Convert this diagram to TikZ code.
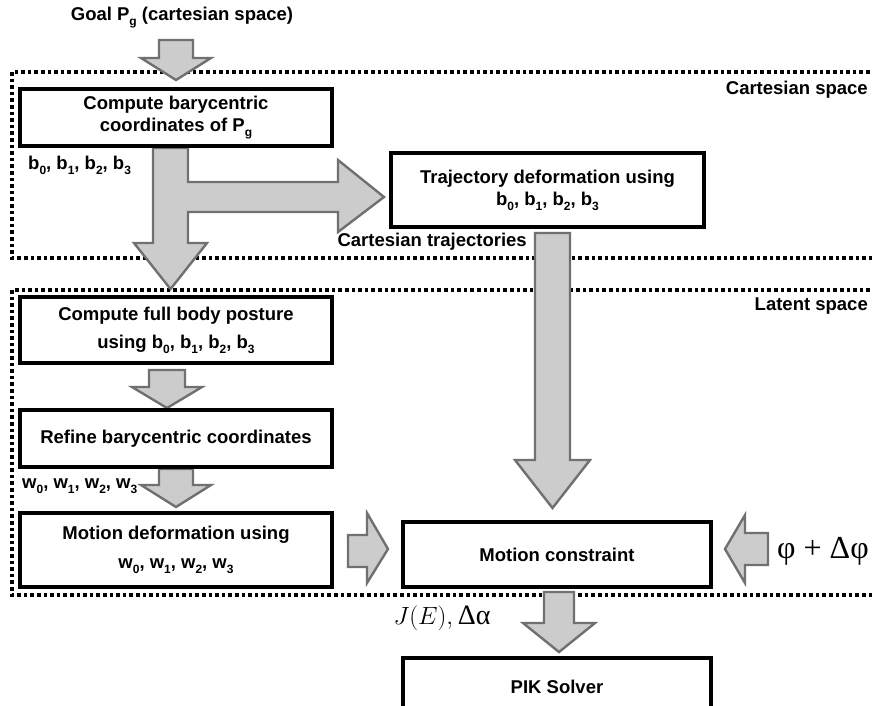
\documentclass[tikz,border=0pt]{standalone}
\usepackage[no-math]{fontspec}
\setmainfont{Liberation Sans}
\newfontfamily\serifgr{Liberation Serif}
\usetikzlibrary{calc}
\newcommand{\sbs}[1]{\raisebox{-0.5ex}{\fontsize{12}{12}\selectfont #1}}
\definecolor{arrowfill}{RGB}{204,204,204}
\definecolor{arrowedge}{RGB}{112,112,112}
\tikzset{
  box/.style={draw=black, line width=3.2pt, fill=white, align=center,
    font=\fontsize{18.5}{22}\selectfont\bfseries, inner sep=0pt},
  lbl/.style={font=\fontsize{18.5}{22}\selectfont\bfseries, inner sep=0pt},
  zone/.style={draw=black, line width=3.3pt, dash pattern=on 3.6pt off 3pt},
  blockarrow/.style={draw=arrowedge, fill=arrowfill, line width=2.4pt, line join=miter},
  mathlbl/.style={inner sep=0pt, font=\fontsize{28}{30}\selectfont},
}
\begin{document}
\begin{tikzpicture}[x=1pt,y=-1pt]
\useasboundingbox (0,0) rectangle (872,705);
% zones
\draw[zone] (12,72) rectangle (895,258);
\draw[zone] (12,290) rectangle (895,595);
% block arrows
\draw[blockarrow] (159,40) -- (193,40) -- (193,58) -- (211,58) -- (176,80) -- (141,58) -- (159,58) -- cycle;
\draw[blockarrow] (153,148) -- (188,148) -- (188,182) -- (338,182) -- (338,160) -- (384,197)
  -- (338,232) -- (338,212) -- (188,212) -- (188,243) -- (207,243) -- (170.5,289) -- (134,243)
  -- (153,243) -- cycle;
\draw[blockarrow] (535,233) -- (570,233) -- (570,460) -- (590,460) -- (552.5,508) -- (515,460) -- (535,460) -- cycle;
\draw[blockarrow] (149,370) -- (185,370) -- (185,387) -- (202,387) -- (167,408) -- (132,387) -- (149,387) -- cycle;
\draw[blockarrow] (159,469) -- (193,469) -- (193,485) -- (211,485) -- (176,507) -- (141,485) -- (159,485) -- cycle;
\draw[blockarrow] (348,535) -- (367,535) -- (367,513) -- (388,549) -- (367,583) -- (367,567) -- (348,567) -- cycle;
\draw[blockarrow] (768,533) -- (745,533) -- (745,515) -- (725,549) -- (745,583) -- (745,565) -- (768,565) -- cycle;
\draw[blockarrow] (544,592) -- (574,592) -- (574,623) -- (595,623) -- (559,652) -- (523,623) -- (544,623) -- cycle;
% boxes
\node[box, minimum width=312pt, minimum height=57pt] (b1) at (176,117.5)
  {Compute barycentric\\coordinates of P\sbs{g}};
\node[box, minimum width=313pt, minimum height=74pt] (b2) at (547.5,190)
  {Trajectory deformation using\\b\sbs{0}, b\sbs{1}, b\sbs{2}, b\sbs{3}};
\node[box, minimum width=312pt, minimum height=66pt] (b3) at (176,330)
  {Compute full body posture\\[6pt]using b\sbs{0}, b\sbs{1}, b\sbs{2}, b\sbs{3}};
\node[box, minimum width=312pt, minimum height=57pt] (b4) at (176,438.5)
  {Refine barycentric coordinates};
\node[box, minimum width=312pt, minimum height=74pt] (b5) at (176,550)
  {Motion deformation using\\[7pt]w\sbs{0}, w\sbs{1}, w\sbs{2}, w\sbs{3}};
\node[box, minimum width=308pt, minimum height=65pt] (b6) at (557,554.5)
  {Motion constraint};
\node[box, minimum width=308pt, minimum height=57pt] (b7) at (557,686.5)
  {PIK Solver};
% labels
\node[lbl] (goal) at (182,18) {Goal P\sbs{g} (cartesian space)};
\node[lbl, anchor=east] (cs) at (868,90) {Cartesian space};
\node[lbl, anchor=east] (ls) at (868,306) {Latent space};
\node[lbl, anchor=west] (bl) at (28,165) {b\sbs{0}, b\sbs{1}, b\sbs{2}, b\sbs{3}};
\node[lbl, anchor=east] (ct) at (527,242) {Cartesian trajectories};
\node[lbl, anchor=west] (wl) at (22,486) {w\sbs{0}, w\sbs{1}, w\sbs{2}, w\sbs{3}};
\node[mathlbl] (je) at (442,618) {$J(E),$\,{\serifgr Δα}};
\node[mathlbl, font=\fontsize{32}{34}\selectfont] (phi) at (823,551) {\serifgr φ + Δφ};
\end{tikzpicture}
\end{document}
